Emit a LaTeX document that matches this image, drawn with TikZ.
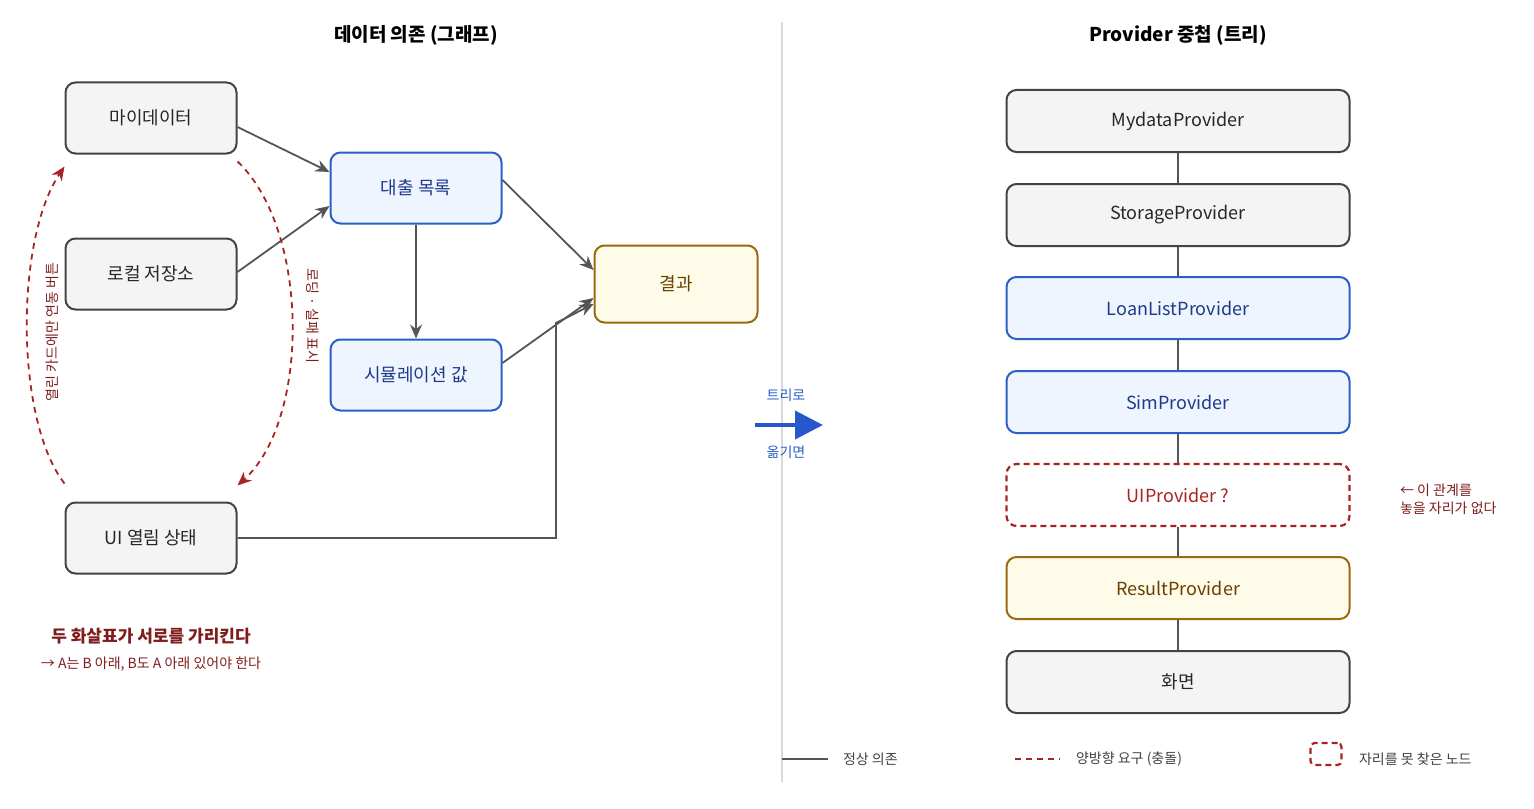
\documentclass[tikz,border=0pt]{standalone}
\usepackage{fontspec}
\setmainfont{Noto Sans CJK KR}
\usetikzlibrary{arrows.meta}
\definecolor{gs}{HTML}{444444}\definecolor{gf}{HTML}{F4F4F4}
\definecolor{bs}{HTML}{2B5FC7}\definecolor{bf}{HTML}{EEF5FF}\definecolor{bt}{HTML}{1E3A8A}
\definecolor{ys}{HTML}{9A6A10}\definecolor{yf}{HTML}{FEFBE8}\definecolor{yt}{HTML}{6B3E00}
\definecolor{rr}{HTML}{A82424}\definecolor{rt}{HTML}{7F1D1D}\definecolor{ln}{HTML}{555555}
\begin{document}
\begin{tikzpicture}[x=0.5pt,y=-0.5pt,
 box/.style={draw=gs,fill=gf,line width=1pt,rounded corners=5pt,minimum width=85.5pt,minimum height=35.5pt,font=\fontsize{9}{11}\selectfont,text=black!85,inner sep=0},
 bb/.style={box,draw=bs,fill=bf,text=bt},
 yb/.style={box,draw=ys,fill=yf,text=yt,minimum width=81.5pt,minimum height=38.5pt},
 tb/.style={box,minimum width=171.5pt,minimum height=31pt},
 ed/.style={draw=ln,line width=0.9pt,-{Stealth[length=7pt,width=6pt]}},
 rd/.style={draw=rr,line width=0.9pt,dash pattern=on 3pt off 2.5pt,-{Stealth[length=7pt,width=6pt]}},
 sm/.style={font=\fontsize{7}{9}\selectfont}]
\useasboundingbox (0,0) rectangle (1534,808);
\node[font=\bfseries\fontsize{9.5}{11}\selectfont] (t1) at (416,35) {데이터 의존 (그래프)};
\node[font=\bfseries\fontsize{9.5}{11}\selectfont] (t2) at (1178,35) {Provider 중첩 (트리)};
\draw[black!15,line width=0.6pt] (782,22) -- (782,782);
\node[box] (md) at (151,118) {마이데이터};
\node[box] (ls) at (151,274) {로컬 저장소};
\node[box] (ui) at (151,538) {UI 열림 상태};
\node[bb] (lo) at (416,188) {대출 목록};
\node[bb] (sim) at (416,375) {시뮬레이션 값};
\node[yb] (res) at (676,284) {결과};
\draw[ed] (md.east) ++(0,9) coordinate(a1) -- ([yshift=8pt]lo.west);
\draw[ed] ([yshift=1pt]ls.east) -- ([yshift=-9pt]lo.west);
\draw[ed] (lo.south) -- (sim.north);
\draw[ed] ([yshift=4pt]lo.east) -- ([yshift=7pt]res.west);
\draw[ed] ([yshift=6pt]sim.east) -- ([yshift=-7pt]res.west);
\draw[ed] (ui.east) -| (556,323) -- ([yshift=-10pt]res.west);
\draw[rd] ([yshift=-3.5pt]md.south east) .. controls (310,230) and (310,420) .. ([yshift=8pt]ui.north east);
\draw[rd] ([yshift=9pt]ui.north west) .. controls (15,420) and (15,240) .. ([yshift=-6pt]md.south west);
\node[sm,text=rt,rotate=90] (l1) at (52,332) {열린 카드에만 연동 버튼};
\node[sm,text=rt,rotate=-90] (l2) at (313,316) {로딩 · 실패 표시};
\node[text=rt,font=\bfseries\fontsize{8.5}{10}\selectfont] (f1) at (151,636) {두 화살표가 서로를 가리킨다};
\node[sm,text=rt] (f2) at (151,664) {→ A는 B 아래, B도 A 아래 있어야 한다};
\coordinate (ba) at (755,425); \coordinate (bz) at (823,425);
\draw[draw=bs!90!blue,line width=2pt,-{Triangle[length=14pt,width=14pt]}] (ba) -- (bz);
\node[sm,text=bs] (tr1) at (786,395) {트리로};
\node[sm,text=bs] (tr2) at (786,452) {옮기면};
\node[tb] (p1) at (1178,121) {MydataProvider};
\node[tb] (p2) at (1178,215) {StorageProvider};
\node[tb,draw=bs,fill=bf,text=bt] (p3) at (1178,308) {LoanListProvider};
\node[tb,draw=bs,fill=bf,text=bt] (p4) at (1178,402) {SimProvider};
\node[tb,draw=rr,fill=white,text=rr,dash pattern=on 3pt off 2pt,line width=1.1pt] (p5) at (1178,495) {UIProvider ?};
\node[tb,draw=ys,fill=yf,text=yt] (p6) at (1178,588) {ResultProvider};
\node[tb] (p7) at (1178,682) {화면};
\foreach \a/\b in {p1/p2,p2/p3,p3/p4,p4/p5,p5/p6,p6/p7} \draw[ln,line width=0.9pt] (\a) -- (\b);
\node[sm,text=rt,align=left,anchor=west] (nt) at (1393,499) {← 이 관계를\\놓을 자리가 없다};
\coordinate (g1) at (782,759); \coordinate (g2) at (828,759);
\draw[ln,line width=1pt] (g1) -- (g2);
\node[sm,anchor=west,text=black!75] (g3) at (836,759) {정상 의존};
\coordinate (g4) at (1015,759); \coordinate (g5) at (1060,759);
\draw[rr,line width=1pt,dash pattern=on 3pt off 2.5pt] (g4) -- (g5);
\node[sm,anchor=west,text=black!75] (g6) at (1069,759) {양방향 요구 (충돌)};
\node[draw=rr,dash pattern=on 3pt off 2pt,line width=1.1pt,rounded corners=2pt,minimum width=15.5pt,minimum height=11pt,inner sep=0] (g7) at (1326,754) {};
\node[sm,anchor=west,text=black!75] (g8) at (1352,759) {자리를 못 찾은 노드};
\end{tikzpicture}
\end{document}
